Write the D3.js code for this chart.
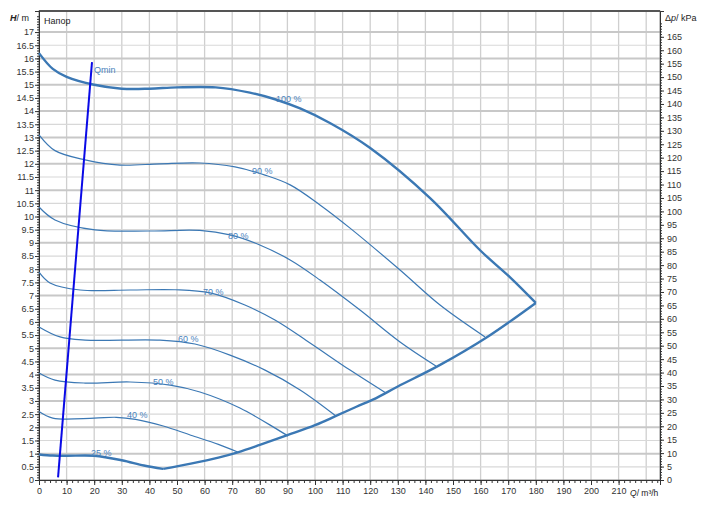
<!DOCTYPE html><html><head><meta charset="utf-8"><script src="https://cdn.jsdelivr.net/npm/d3@7"></script>
<style>body{margin:0;background:#fff}text{font-family:"Liberation Sans",Arial,sans-serif;font-size:9px}</style></head><body><svg id="c" width="705" height="516"></svg><script>
const curves = {
 "100": [[0,16.2],[5,15.6],[10,15.3],[20,15.0],[30,14.85],[40,14.85],[50,14.9],[64,14.9],[76.4,14.7],[85.5,14.45],[94.6,14.1],[105.4,13.55],[120,12.6],[141.7,10.7],[160,8.7],[170.6,7.7],[180,6.72]],
 "90": [[0,13.1],[5.8,12.5],[16.7,12.15],[29.3,11.95],[43.8,12.0],[58.3,12.03],[71,11.88],[81.9,11.57],[91,11.2],[101.8,10.44],[112.7,9.56],[130.8,7.97],[145.3,6.64],[161.6,5.43]],
 "80": [[0,10.36],[5.8,9.87],[20.3,9.49],[40.2,9.45],[58.3,9.47],[69.2,9.3],[80,8.92],[91,8.35],[101.8,7.59],[116.3,6.45],[130.8,5.24],[143.8,4.33]],
 "70": [[0,7.89],[4,7.48],[14.9,7.21],[33,7.21],[49.3,7.22],[62,7.1],[74.6,6.64],[85.5,6.07],[98.2,5.2],[112.7,4.17],[125.7,3.3]],
 "60": [[0,5.81],[7.6,5.43],[16.7,5.31],[43.8,5.31],[56.5,5.16],[69.2,4.74],[81.9,4.17],[94.6,3.42],[107.6,2.43]],
 "50": [[0,4.06],[5.8,3.79],[16.7,3.68],[33,3.72],[47.5,3.6],[58.3,3.34],[72.8,2.73],[90.2,1.67]],
 "40": [[0,2.6],[5,2.35],[20,2.35],[28,2.38],[35,2.3],[45,2.05],[55,1.7],[65,1.35],[72,1.06]],
 "25": [[0,0.97],[5,0.93],[10,0.92],[20,0.92],[30,0.75],[38,0.55],[45,0.42]]
};
const systemCurve = [[45,0.42],[55,0.62],[65,0.85],[72,1.05],[80,1.33],[90,1.7],[100,2.08],[108,2.45],[115,2.78],[122,3.1],[130,3.55],[145,4.35],[162,5.4],[180,6.72]];
const qmin = [[6.9,0.1],[19.2,15.86]];
const labels = [["100 %",85.9,14.35],["90 %",77.2,11.6],["80 %",68.5,9.15],["70 %",59.4,7.02],["60 %",50.4,5.24],["50 %",41.3,3.6],["40 %",31.9,2.35],["25 %",18.8,0.91],["Qmin",19.9,15.45]];
const xTicks = d3.range(0,211,10);
const yTicks = d3.range(0,17.01,0.5);
const kpaTicks = d3.range(0,166,5);

const svg=d3.select("#c");
const L=39,R=660,T=11,B=480;
const x=d3.scaleLinear().domain([0,(R-L)/2.76]).range([L,R]);
const y=d3.scaleLinear().domain([0,(B-T)/26.35]).range([B,T]);
const yk=d3.scaleLinear().domain([0,(B-T)/26.35*9.81]).range([B,T]);
const g=svg.append("g");
g.selectAll(".vg").data(d3.range(10,x.domain()[1],10)).join("line").attr("x1",d=>x(d)).attr("x2",d=>x(d)).attr("y1",T).attr("y2",B).attr("stroke","#cfcfcf").attr("stroke-width",1.3);
g.selectAll(".hg").data(yTicks.filter(d=>d>0)).join("line").attr("x1",L).attr("x2",R).attr("y1",d=>y(d)).attr("y2",d=>y(d)).attr("stroke",d=>Number.isInteger(d)?"#c8c8c8":"#d8d8d8").attr("stroke-width",d=>Number.isInteger(d)?2:1.2);
svg.append("rect").attr("x",L).attr("y",T).attr("width",R-L).attr("height",B-T).attr("fill","none").attr("stroke","#888").attr("stroke-width",1);
svg.append("line").attr("x1",L).attr("x2",R).attr("y1",T).attr("y2",T).attr("stroke","#555").attr("stroke-width",2);
const ax=svg.append("g").attr("transform",`translate(0,${B})`).call(d3.axisBottom(x).tickValues(xTicks).tickSize(5).tickFormat(d=>d));
ax.append("g").call(d3.axisBottom(x).tickValues(d3.range(0,x.domain()[1],2)).tickSize(3).tickFormat(""));
const ay=svg.append("g").attr("transform",`translate(${L},0)`).call(d3.axisLeft(y).tickValues(yTicks).tickSize(4).tickFormat(d=>d));
ay.append("g").call(d3.axisLeft(y).tickValues(d3.range(0,17.7,0.1)).tickSize(2).tickFormat(""));
const ar=svg.append("g").attr("transform",`translate(${R},0)`).call(d3.axisRight(yk).tickValues(kpaTicks).tickSize(4).tickFormat(d=>d));
ar.append("g").call(d3.axisRight(yk).tickValues(d3.range(0,171,1)).tickSize(2).tickFormat(""));
svg.selectAll(".domain").attr("stroke","#333");
svg.selectAll(".tick line").attr("stroke","#333");
svg.selectAll(".tick text").attr("fill","#333").style("font-size","9px");
ay.selectAll(".tick text").attr("x",-5);
svg.append("text").attr("x",10).attr("y",21).html('<tspan font-weight="bold" font-style="italic">H</tspan>/ m').attr("fill","#222");
svg.append("text").attr("x",44).attr("y",24).text("Напор").attr("fill","#222");
svg.append("text").attr("x",665).attr("y",21).html('Δ<tspan font-style="italic">p</tspan>/ kPa').attr("fill","#222");
svg.append("text").attr("x",630).attr("y",496).style("font-size","8.5px").html('<tspan font-style="italic">Q</tspan>/ m³/h').attr("fill","#222");
const line=d3.line().x(d=>x(d[0])).y(d=>y(d[1])).curve(d3.curveCatmullRom.alpha(0.5));
const col="#3b78b4";
Object.entries(curves).forEach(([k,v])=>{
 svg.append("path").attr("d",line(v)).attr("fill","none").attr("stroke",col).attr("stroke-width",(k==="100"||k==="25")?2.4:1.2);
});
svg.append("path").attr("d",line(systemCurve)).attr("fill","none").attr("stroke",col).attr("stroke-width",2.4);
svg.append("path").attr("d",d3.line().x(d=>x(d[0])).y(d=>y(d[1]))(qmin)).attr("stroke","#0a0ae6").attr("stroke-width",2);
labels.forEach(l=>svg.append("text").attr("x",x(l[1])).attr("y",y(l[2])).text(l[0]).attr("fill","#4a82bd"));
</script></body></html>
